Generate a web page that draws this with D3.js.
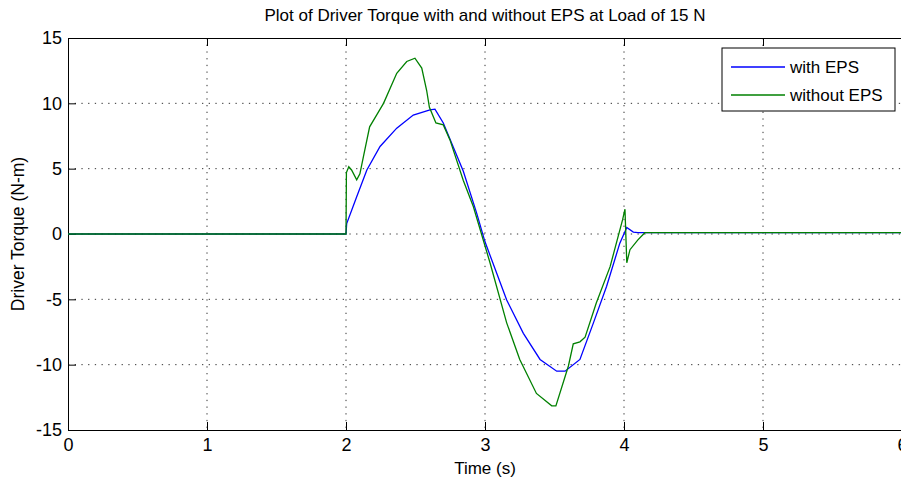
<!DOCTYPE html>
<html>
<head>
<meta charset="utf-8">
<script src="https://cdnjs.cloudflare.com/ajax/libs/d3/7.8.5/d3.min.js"></script>
<style>
    body { margin: 0; background: #fff; }
    text { font-family: "Liberation Sans", Arial, sans-serif; fill: #000; }
</style>
</head>
<body>
<svg></svg>
<script>
// data
const withEpsTime = [0, 2.0, 2.005, 2.077, 2.15, 2.245, 2.365, 2.484, 2.604, 2.64, 2.70, 2.77, 2.844, 2.94, 3.0,
    3.156, 3.276, 3.396, 3.516, 3.576, 3.683, 3.78, 3.875, 3.97, 4.02, 4.067, 4.1, 6.0];
const withEpsTorque = [0, 0, 0.8, 2.85, 4.9, 6.7, 8.1, 9.1, 9.5, 9.55, 8.5, 6.7, 4.8, 1.6, -0.6,
    -5.05, -7.6, -9.6, -10.5, -10.5, -9.6, -6.8, -4.0, -0.7, 0.5, 0.15, 0.1, 0.1];

const withoutEpsTime = [0, 2.0, 2.003, 2.02, 2.04, 2.077, 2.10, 2.125, 2.17, 2.22, 2.27, 2.365, 2.437, 2.496,
    2.545, 2.58, 2.60, 2.647, 2.70, 2.748, 2.844, 2.916, 3.036, 3.156, 3.25, 3.37, 3.48, 3.51, 3.6, 3.635,
    3.683, 3.72, 3.80, 3.90, 3.99, 4.007, 4.02, 4.043, 4.10, 4.15, 6.0];
const withoutEpsTorque = [0, 0, 4.7, 5.15, 4.9, 4.15, 4.6, 5.9, 8.2, 9.1, 10.0, 12.3, 13.2, 13.45,
    12.7, 11.0, 9.7, 8.5, 8.35, 7.2, 4.1, 2.1, -2.2, -6.8, -9.6, -12.2, -13.15, -13.15, -10.1, -8.4,
    -8.25, -7.9, -5.3, -2.5, 1.1, 1.9, -2.2, -1.2, -0.45, 0.1, 0.1];

const xTicks = [0, 1, 2, 3, 4, 5, 6];
const yTicks = [-15, -10, -5, 0, 5, 10, 15];
const seriesNames = ["with EPS", "without EPS"];
const seriesColors = ["#0000ff", "#008000"];

let svgWidth = 901;
let svgHeight = 482;
let margin = {left: 68, top: 38, right: -1, bottom: 52};
let plotW = svgWidth - margin.left - margin.right;
let plotH = svgHeight - margin.top - margin.bottom;

let svg = d3.select("svg")
    .attr("width", svgWidth)
    .attr("height", svgHeight)

let xScale = d3.scaleLinear()
    .domain([0, 6])
    .range([margin.left, margin.left + plotW])

let yScale = d3.scaleLinear()
    .domain([-15, 15])
    .range([margin.top + plotH, margin.top])

// dotted grid
svg.append("g")
    .selectAll("line")
    .data(xTicks.slice(1, -1))
    .enter()
    .append("line")
    .attr("x1", d => xScale(d))
    .attr("x2", d => xScale(d))
    .attr("y1", margin.top)
    .attr("y2", margin.top + plotH)
    .attr("stroke", "#333")
    .attr("stroke-dasharray", "1.3,5.4")

svg.append("g")
    .selectAll("line")
    .data(yTicks.slice(1, -1))
    .enter()
    .append("line")
    .attr("x1", margin.left)
    .attr("x2", margin.left + plotW)
    .attr("y1", d => yScale(d))
    .attr("y2", d => yScale(d))
    .attr("stroke", "#333")
    .attr("stroke-dasharray", "1.3,5.4")

// axes, ticks pointing inwards
let xAxis = d3.axisBottom(xScale)
    .tickValues(xTicks)
    .tickFormat(d => String(d))
    .tickSizeInner(-8)
    .tickSizeOuter(0)
    .tickPadding(8)

let xAxisGroup = svg.append("g")
    .attr("transform", `translate(0, ${margin.top + plotH})`)
    .call(xAxis)

let xAxisTop = svg.append("g")
    .attr("transform", `translate(0, ${margin.top})`)
    .call(d3.axisTop(xScale).tickValues(xTicks).tickSizeInner(-8).tickSizeOuter(0).tickFormat(""))

let yAxis = d3.axisLeft(yScale)
    .tickValues(yTicks)
    .tickFormat(d => String(d))
    .tickSizeInner(-8)
    .tickSizeOuter(0)
    .tickPadding(6)

let yAxisGroup = svg.append("g")
    .attr("transform", `translate(${margin.left}, 0)`)
    .call(yAxis)

svg.selectAll(".domain, .tick line")
    .attr("stroke", "#000")
svg.selectAll(".tick text")
    .style("font-size", "18px")
    .style("font-family", "'Liberation Sans', Arial, sans-serif")

// curves
let line = d3.line()
    .x(d => xScale(d[0]))
    .y(d => yScale(d[1]))

let blueData = withEpsTime.map((t, i) => [t, withEpsTorque[i]]);
let greenData = withoutEpsTime.map((t, i) => [t, withoutEpsTorque[i]]);

svg.append("path")
    .datum(blueData)
    .attr("d", line)
    .attr("fill", "none")
    .attr("stroke", seriesColors[0])
    .attr("stroke-width", 1.3)

svg.append("path")
    .datum(greenData)
    .attr("d", line)
    .attr("fill", "none")
    .attr("stroke", seriesColors[1])
    .attr("stroke-width", 1.3)

// title and labels
svg.append("text")
    .attr("x", xScale(3))
    .attr("y", 21)
    .attr("text-anchor", "middle")
    .style("font-size", "17px")
    .text("Plot of Driver Torque with and without EPS at Load of 15 N")

svg.append("text")
    .attr("x", xScale(3))
    .attr("y", 474)
    .attr("text-anchor", "middle")
    .style("font-size", "17px")
    .text("Time (s)")

svg.append("text")
    .attr("transform", "rotate(-90)")
    .attr("x", -yScale(0))
    .attr("y", 24)
    .attr("text-anchor", "middle")
    .style("font-size", "17.5px")
    .text("Driver Torque (N-m)")

// legend
let legend = svg.append("g")
    .attr("transform", "translate(722, 48)")

legend.append("rect")
    .attr("width", 173)
    .attr("height", 63)
    .attr("fill", "#fff")
    .attr("stroke", "#000")

seriesNames.forEach(function(name, i) {
    let y = 19 + i * 28;
    legend.append("line")
        .attr("x1", 9)
        .attr("x2", 63)
        .attr("y1", y)
        .attr("y2", y)
        .attr("stroke", seriesColors[i])
        .attr("stroke-width", 1.3)
    legend.append("text")
        .attr("x", 68)
        .attr("y", y + 6)
        .style("font-size", "17px")
        .text(name)
})
</script>
</body>
</html>
